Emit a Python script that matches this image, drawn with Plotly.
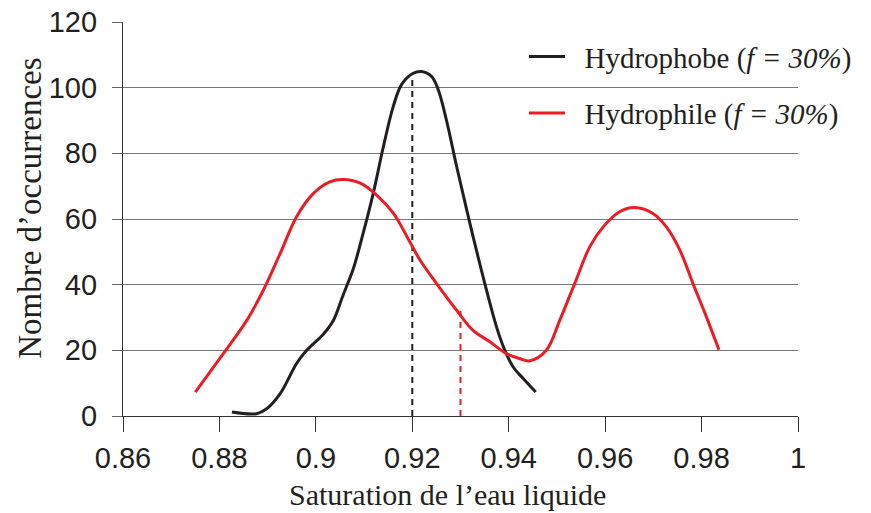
import plotly.graph_objects as go

# Hydrophobe (f = 30%) - distribution of liquid water saturation
phobe_x = [0.8826, 0.8877, 0.8898, 0.8926, 0.8960, 0.8981, 0.9016, 0.9036, 0.9057, 0.9078,
           0.9098, 0.9119, 0.9140, 0.9160, 0.9178, 0.9202, 0.9219, 0.9240, 0.9254, 0.9271,
           0.9292, 0.9313, 0.9333, 0.9354, 0.9375, 0.9392, 0.9409, 0.9430, 0.9456]
phobe_y = [1.2, 0.7, 2.2, 6.8, 16, 20, 25, 29, 37, 45,
           55.6, 67.8, 82, 94, 101, 104.4, 104.9, 103.4, 99.3, 90,
           76, 62.7, 50.5, 38.3, 27, 20, 15, 11.4, 7.3]

# Hydrophile (f = 30%)
phile_x = [0.8750, 0.8808, 0.8857, 0.8891, 0.8926, 0.8960, 0.8995, 0.9029, 0.9057, 0.9092,
           0.9126, 0.9161, 0.9195, 0.9216, 0.9250, 0.9292, 0.9326, 0.9361, 0.9395, 0.9423,
           0.9444, 0.9478, 0.9506, 0.9537, 0.9568, 0.9596, 0.9630, 0.9661, 0.9699, 0.9727,
           0.9755, 0.9782, 0.9810, 0.9836]
phile_y = [7.3, 19, 29.2, 38.3, 49.5, 60.7, 67.8, 71.3, 72, 70.9,
           67.3, 61.7, 53, 47.5, 40.4, 32.2, 26.1, 22.6, 19, 17.5,
           16.8, 20, 29.2, 40.4, 51.5, 57.6, 62.2, 63.5, 61.7, 57.6,
           50.5, 40.4, 30.2, 20.2]

# mean saturation markers (dashed verticals)
phobe_mean = 0.92
phobe_mean_top = 103.4
phile_mean = 0.93
phile_mean_top = 32.2

x_ticks = [0.86, 0.88, 0.9, 0.92, 0.94, 0.96, 0.98, 1]
x_ticklabels = ["0.86", "0.88", "0.9", "0.92", "0.94", "0.96", "0.98", "1"]
y_ticks = [0, 20, 40, 60, 80, 100, 120]

x_title = "Saturation de l’eau liquide"
y_title = "Nombre d’occurrences"
pad = "\u00a0\u00a0"  # gap between legend line and text

BLACK = "#231f20"
RED = "#ed1c24"
SERIF = "Liberation Serif, Times New Roman"
SANS = "Liberation Sans, Arial"

fig = go.Figure()

fig.add_trace(go.Scatter(
    x=[phobe_mean, phobe_mean], y=[0, phobe_mean_top], mode="lines",
    line=dict(color=BLACK, width=2, dash="6px,5px"), showlegend=False, hoverinfo="skip",
))
fig.add_trace(go.Scatter(
    x=[phile_mean, phile_mean], y=[0, phile_mean_top], mode="lines",
    line=dict(color=RED, width=2, dash="6px,5px"), showlegend=False, hoverinfo="skip",
))
fig.add_trace(go.Scatter(
    x=phobe_x, y=phobe_y, mode="lines", name=pad + "Hydrophobe (<i>f = 30%</i>)",
    line=dict(color=BLACK, width=3, shape="spline", smoothing=1.0),
    legendgroup="a",
))
fig.add_trace(go.Scatter(
    x=phile_x, y=phile_y, mode="lines", name=pad + "Hydrophile (<i>f = 30%</i>)",
    line=dict(color=RED, width=3, shape="spline", smoothing=1.0),
    legendgroup="b",
))

# page body adds an 8px offset, so the figure is sized a bit smaller than the window
fig.update_layout(
    width=863,
    height=505,
    margin=dict(l=115, r=73, t=14, b=97),
    plot_bgcolor="white",
    paper_bgcolor="white",
    font=dict(family=SANS, color=BLACK),
    showlegend=True,
    legend=dict(
        x=0.594, y=0.977, xanchor="left", yanchor="top",
        bgcolor="rgba(0,0,0,0)",
        font=dict(family=SERIF, size=29, color=BLACK),
        traceorder="grouped",
        tracegroupgap=16,
        itemwidth=36,
    ),
    annotations=[
        dict(text=x_title, xref="paper", yref="paper", x=0.48, y=-0.2,
             xanchor="center", yanchor="middle", showarrow=False,
             font=dict(family=SERIF, size=30, color=BLACK)),
        dict(text=y_title, xref="paper", yref="paper", x=-0.138, y=0.528,
             xanchor="center", yanchor="middle", showarrow=False, textangle=-90,
             font=dict(family=SERIF, size=33, color=BLACK)),
    ],
)

fig.update_xaxes(
    range=[0.86, 1.0],
    tickvals=x_ticks,
    ticktext=x_ticklabels,
    tickfont=dict(size=29, family=SANS, color=BLACK),
    ticks="outside", ticklen=15, tickwidth=1.3, tickcolor="#333",
    ticklabelstandoff=1,
    ticklabeloverflow="allow",
    showline=True, linecolor="#333", linewidth=1.3,
    showgrid=False, zeroline=False,
    automargin=False,
)

fig.update_yaxes(
    range=[0, 120],
    tickvals=y_ticks,
    tickfont=dict(size=29, family=SANS, color=BLACK),
    ticks="outside", ticklen=10, tickwidth=1.3, tickcolor="#666",
    ticklabelstandoff=9,
    ticklabeloverflow="allow",
    showline=True, linecolor="#333", linewidth=1.3,
    showgrid=True, gridcolor="#777", gridwidth=1.3,
    zeroline=False,
    automargin=False,
)

fig.write_html("out.html")
